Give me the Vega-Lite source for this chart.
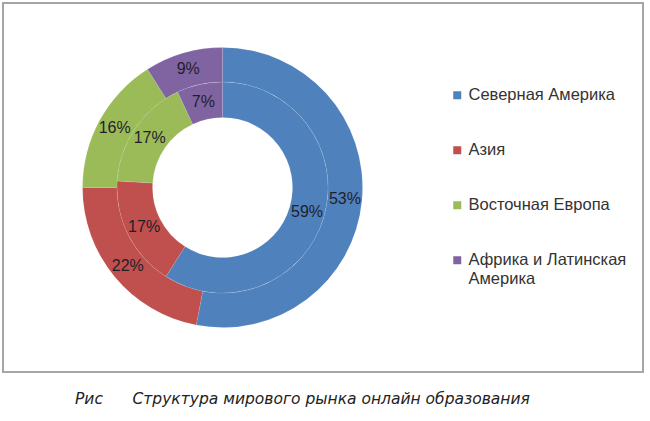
{
  "$schema": "https://vega.github.io/schema/vega-lite/v6.json",
  "width": 640,
  "height": 369,
  "autosize": {"type": "none"},
  "padding": {"left": 3, "top": 3, "right": 7, "bottom": 49},
  "background": "white",
  "view": {"stroke": "#a6a6a6", "strokeWidth": 2, "fill": "white"},
  "config": {
    "view": {"stroke": "#a6a6a6", "strokeWidth": 2},
    "font": "Liberation Sans"
  },
  "title": {
    "text": "Рис\u00a0\u00a0\u00a0\u00a0\u00a0\u00a0Структура мирового рынка онлайн образования",
    "orient": "bottom",
    "anchor": "start",
    "dx": 72,
    "offset": 20,
    "font": "DejaVu Sans",
    "fontSize": 15.5,
    "fontStyle": "italic",
    "fontWeight": "normal",
    "color": "#222222"
  },
  "datasets": {
    "outer": [
      {"region": "Северная Америка", "i": 1, "share": 0.53},
      {"region": "Азия", "i": 2, "share": 0.22},
      {"region": "Восточная Европа", "i": 3, "share": 0.16},
      {"region": "Африка и Латинская Америка", "i": 4, "share": 0.09}
    ],
    "inner": [
      {"region": "Северная Америка", "i": 1, "share": 0.59},
      {"region": "Азия", "i": 2, "share": 0.17},
      {"region": "Восточная Европа", "i": 3, "share": 0.17},
      {"region": "Африка и Латинская Америка", "i": 4, "share": 0.07}
    ]
  },
  "layer": [
    {
      "data": {"name": "outer"},
      "mark": {"type": "arc", "radius": 140, "radius2": 105.5, "x": {"expr": "width * 0.343"}, "stroke": "#ffffff", "strokeWidth": 0.4, "strokeOpacity": 0.25},
      "encoding": {
        "theta": {"field": "share", "type": "quantitative", "stack": true},
        "order": {"field": "i", "type": "quantitative"},
        "color": {
          "field": "region",
          "type": "nominal",
          "sort": ["Северная Америка", "Азия", "Восточная Европа", "Африка и Латинская Америка"],
          "scale": {
            "domain": ["Северная Америка", "Азия", "Восточная Европа", "Африка и Латинская Америка"],
            "range": ["#4f81bd", "#c0504d", "#9bbb59", "#8064a2"]
          },
          "legend": {
            "title": null,
            "orient": "none",
            "legendX": 446,
            "legendY": 84,
            "symbolType": "square",
            "symbolSize": 64,
            "symbolStrokeWidth": 0,
            "labelFontSize": 16.5,
            "labelFont": "Liberation Sans",
            "labelColor": "#333333",
            "labelLimit": 300,
            "rowPadding": 38,
            "labelOffset": 3,
            "labelExpr": "datum.label == 'Африка и Латинская Америка' ? ['Африка и Латинская', 'Америка'] : datum.label"
          }
        }
      }
    },
    {
      "data": {"name": "inner"},
      "mark": {"type": "arc", "radius": 105.5, "radius2": 70, "x": {"expr": "width * 0.343"}, "stroke": "#ffffff", "strokeWidth": 0.4, "strokeOpacity": 0.25},
      "encoding": {
        "theta": {"field": "share", "type": "quantitative", "stack": true},
        "order": {"field": "i", "type": "quantitative"},
        "color": {"field": "region", "type": "nominal"}
      }
    },
    {
      "data": {"name": "outer"},
      "mark": {"type": "text", "radius": 123, "x": {"expr": "width * 0.343"}, "fontSize": 16, "fill": "#1f1f2a"},
      "encoding": {
        "theta": {"field": "share", "type": "quantitative", "stack": true},
        "order": {"field": "i", "type": "quantitative"},
        "text": {"field": "share", "type": "quantitative", "format": ".0%"}
      }
    },
    {
      "data": {"name": "inner"},
      "mark": {"type": "text", "radius": 88, "x": {"expr": "width * 0.343"}, "fontSize": 16, "fill": "#1f1f2a"},
      "encoding": {
        "theta": {"field": "share", "type": "quantitative", "stack": true},
        "order": {"field": "i", "type": "quantitative"},
        "text": {"field": "share", "type": "quantitative", "format": ".0%"}
      }
    }
  ]
}
